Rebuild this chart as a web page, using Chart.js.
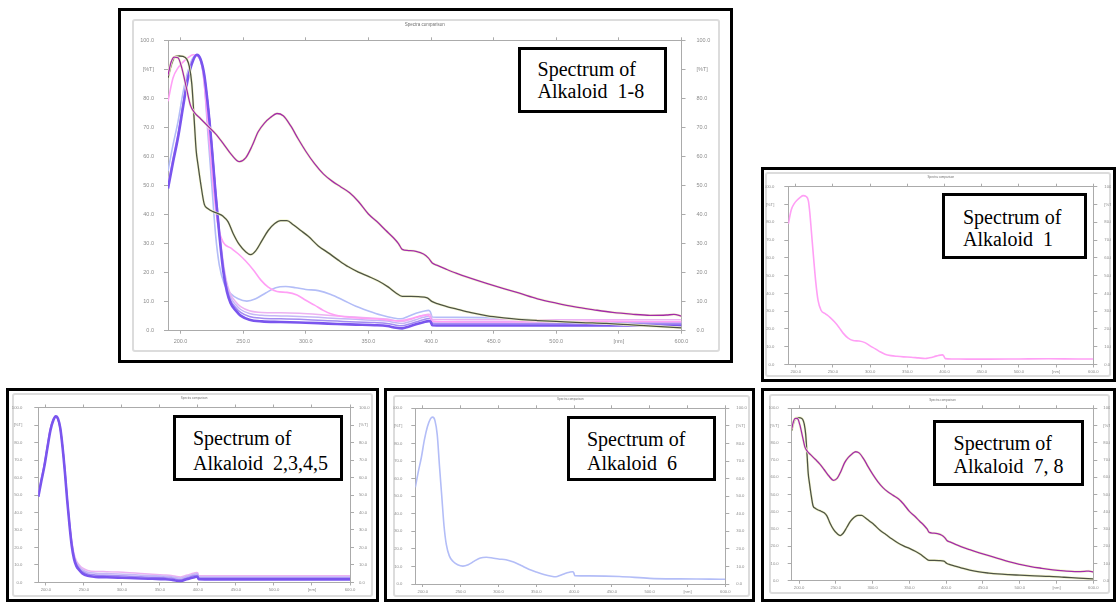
<!DOCTYPE html>
<html>
<head>
<meta charset="utf-8">
<title>Spectra of alkaloids 1-8</title>
<script src="https://cdn.jsdelivr.net/npm/chart.js@4.4.1/dist/chart.umd.min.js"></script>
<style>
  body { margin: 0; width: 1116px; height: 603px; background: #fff; position: relative; overflow: hidden; }
  .frame { position: absolute; box-sizing: border-box; border: 3px solid #000; }
  .inner { position: absolute; box-sizing: border-box; border: 2px solid #dcdcdc; border-radius: 3px; }
  canvas { position: absolute; }
  .label {
    position: absolute; box-sizing: border-box; border: 3px solid #000; background: #fff;
    font-family: 'Liberation Serif', 'Times New Roman', serif; font-size: 20px; color: #000; white-space: pre;
  }
</style>
</head>
<body>
<script>
// axis ticks
const xTickValues = [200, 250, 300, 350, 400, 450, 500, 550, 600];
const xTickLabels = ['200.0', '250.0', '300.0', '350.0', '400.0', '450.0', '500.0', '[nm]', '600.0'];
const yTickValues = [0, 10, 20, 30, 40, 50, 60, 70, 80, 90, 100];
const yTickLabels = ['0.0', '10.0', '20.0', '30.0', '40.0', '50.0', '60.0', '70.0', '80.0', '[%T]', '100.0'];

// alkaloid 1
const alk1Nm  = [190, 194, 198, 202, 206, 210, 214, 217, 219, 221, 224, 227, 230, 234, 240, 246, 252, 258, 264, 270, 277, 285, 293, 300, 307, 314, 320, 328, 336, 345, 355, 365, 374, 380, 386, 392, 397, 399, 401, 410, 430, 460, 500, 540, 580, 600];
const alk1Val = [79, 87, 90.5, 92.5, 94, 95, 94.5, 92, 85, 75, 60, 46, 36, 30.5, 28.5, 26.5, 24, 21, 17.5, 15, 13.5, 13.2, 12.3, 10.5, 8.8, 7, 5.8, 5, 4.6, 4.3, 4.1, 3.7, 3.4, 3.8, 4.4, 5.1, 5.4, 4.8, 3.3, 3.1, 3.0, 3.0, 3.1, 3.2, 3.1, 3.1];

// alkaloids 2,3,4,5 (same wavelength grid)
const groupNm = [190, 194, 198, 202, 206, 210, 213, 216, 219, 222, 225, 228, 231, 234, 237, 240, 244, 248, 255, 265, 280, 295, 310, 325, 340, 355, 365, 372, 377, 382, 388, 394, 398, 399.5, 401, 420, 460, 500, 540, 580, 600];
const alk2Val = [49, 58, 66.5, 77, 87, 93, 95, 93.5, 88, 77, 63, 47, 33, 21, 13.5, 9.5, 7, 5.2, 3.8, 3.2, 3.0, 2.8, 2.6, 2.3, 2.1, 1.9, 1.6, 1.0, 0.8, 1.4, 2.2, 2.9, 3.3, 3.2, 1.9, 1.8, 1.8, 1.8, 1.8, 1.8, 1.8];
const alk3Val = [49.5, 58.5, 67, 77.5, 87.5, 93.2, 95, 93.3, 88, 77.5, 63.5, 47.5, 33.5, 22, 14.5, 10.5, 8, 6.3, 4.9, 4.3, 4.1, 3.9, 3.6, 3.3, 3.0, 2.8, 2.5, 1.9, 1.7, 2.2, 3.0, 3.8, 4.2, 4.1, 2.6, 2.5, 2.5, 2.5, 2.5, 2.5, 2.5];
const alk4Val = [50, 59, 67.5, 78, 88, 93.4, 94.8, 93, 87.5, 77.5, 64, 48, 34, 23, 15.5, 11.5, 9, 7.3, 5.9, 5.3, 5.1, 4.9, 4.6, 4.2, 3.9, 3.6, 3.3, 2.7, 2.5, 3.0, 3.8, 4.6, 5.0, 4.9, 3.2, 3.1, 3.1, 3.1, 3.1, 3.1, 3.1];
const alk5Val = [50.5, 59.5, 68, 78.5, 88.5, 93.6, 94.6, 92.8, 87, 77.5, 64.5, 48.5, 35, 24, 16.5, 12.5, 10, 8.3, 6.9, 6.3, 6.2, 6.0, 5.6, 5.1, 4.7, 4.3, 4.0, 3.4, 3.2, 3.7, 4.5, 5.3, 5.7, 5.6, 3.9, 3.8, 3.8, 3.8, 3.8, 3.8, 3.8];

// alkaloid 6
const alk6Nm  = [190, 194, 198, 202, 206, 210, 213, 216, 219, 222, 225, 228, 231, 235, 240, 246, 253, 260, 268, 276, 284, 292, 300, 310, 320, 330, 340, 350, 360, 370, 376, 382, 388, 394, 398, 399.5, 401, 420, 460, 500, 540, 580, 600];
const alk6Val = [55, 64, 72, 82, 89.5, 94, 95, 93, 85, 67, 50, 33, 22.5, 16, 12.8, 11, 10.2, 11, 13, 14.8, 15.2, 14.8, 14.2, 13.8, 12.5, 10.5, 8.4, 6.8, 5.4, 4.4, 4.1, 5.0, 6.0, 6.7, 7.0, 6.5, 4.7, 4.6, 4.3, 3.2, 2.9, 2.8, 2.7];

// alkaloid 7
const alk7Nm  = [190, 192.5, 195, 198, 201, 205, 208, 211, 216, 222, 228, 234, 240, 247, 252, 257, 262, 267, 272, 277, 282, 288, 294, 300, 307, 314, 321, 328, 335, 342, 350, 357, 364, 370, 374, 377, 382, 388, 394, 398, 401, 405, 412, 420, 432, 445, 458, 470, 485, 500, 515, 530, 545, 560, 575, 588, 594, 600];
const alk7Val = [88, 92.5, 94.2, 94, 90.5, 83, 77.5, 75.2, 73, 70.4, 67.8, 64.5, 61, 58.2, 59.5, 63.5, 68.5, 71.5, 73.5, 74.8, 74, 70.5, 66, 61.8, 57.5, 54, 51.5, 49.5, 47.5, 44.5, 40.2, 37.5, 34.5, 32, 30, 28, 27.6, 27.3, 26.4, 25, 23.3, 22.5, 21.2, 19.8, 18, 16.2, 14.5, 13, 11, 9.5, 8.2, 7.2, 6.3, 5.7, 5.3, 5.4, 5.6, 5.0];

// alkaloid 8
const alk8Nm  = [190, 193, 196, 199, 202, 205, 207, 209, 211, 212.5, 214, 216, 219, 222, 226, 230, 234, 238, 242, 247, 252, 256, 260, 265, 270, 275, 280, 285, 290, 296, 302, 310, 318, 326, 334, 342, 350, 358, 366, 372, 377, 384, 390, 397, 401, 405, 412, 420, 432, 445, 458, 470, 485, 500, 520, 540, 560, 580, 600];
const alk8Val = [87, 92, 94.5, 94.6, 94.5, 93.5, 91, 85, 72, 62, 57, 51, 43.5, 42, 41, 40.3, 39.4, 37.5, 33.5, 29.6, 27.2, 26.2, 27.5, 31, 34.5, 36.8, 37.9, 37.9, 36.5, 34.5, 32.5, 29.2, 26.8, 24.3, 22, 20.2, 18.7, 17.1, 15, 13, 11.8, 11.8, 11.7, 11.3, 10.0, 9.3, 8.4, 7.5, 6.2, 5.1, 4.4, 3.9, 3.5, 3.2, 2.8, 2.5, 2.0, 1.5, 1.0];

const series = {
  a1: { nm: alk1Nm, val: alk1Val, color: '#ff9ff5', width: 1.6 },
  a2: { nm: groupNm, val: alk2Val, color: '#7a55ee', width: 2.6 },
  a3: { nm: groupNm, val: alk3Val, color: '#a48cf2', width: 1.5 },
  a4: { nm: groupNm, val: alk4Val, color: '#c6b6f6', width: 1.5 },
  a5: { nm: groupNm, val: alk5Val, color: '#ecb2f2', width: 1.5 },
  a6: { nm: alk6Nm, val: alk6Val, color: '#b3bdf7', width: 1.6 },
  a7: { nm: alk7Nm, val: alk7Val, color: '#a32aa8', width: 1.3, halo: '#f4f6d2' },
  a8: { nm: alk8Nm, val: alk8Val, color: '#4e5344', width: 1.3, halo: '#f4f6d2' }
};

// panel layout: frame, grey inner frame / canvas, axis sizes, title, text box
const panels = [
  { frame: [118, 8, 615, 355], canvas: [132, 19, 588, 333], left: 36, right: 38.5, top: 21.3, bottom: 21.3,
    fs: 5.5, padL: 10, padR: 11, padX: 4, titleY: 5.7, titleSize: 4.5,
    box: [518, 47, 149, 66], boxPad: [8.4, 16.6], lh: 22, text: 'Spectrum of\nAlkaloid  1-8',
    lines: ['a7', 'a8', 'a2', 'a1', 'a3', 'a4', 'a5', 'a6'] },
  { frame: [761, 167, 355, 215], canvas: [765, 172, 346, 205], left: 23.3, right: 17.7, top: 14.7, bottom: 12,
    fs: 4.2, padL: 10, padR: 7, padX: 2, titleY: 5.3, titleSize: 3,
    box: [942, 193, 145, 66], boxPad: [11, 18], lh: 21.7, text: 'Spectrum of\nAlkaloid  1',
    lines: ['a1'] },
  { frame: [6, 388, 373, 214], canvas: [12, 393, 361, 204], left: 26.3, right: 23, top: 13.7, bottom: 13.7,
    fs: 4.2, padL: 12, padR: 5, padX: 2, titleY: 4.7, titleSize: 3,
    box: [173, 415, 170, 66], boxPad: [7.8, 17], lh: 25, text: 'Spectrum of\nAlkaloid  2,3,4,5',
    lines: ['a2', 'a3', 'a4', 'a5'] },
  { frame: [384, 388, 371, 214], canvas: [393, 395, 357, 202], left: 22.3, right: 24.7, top: 13.3, bottom: 13,
    fs: 4.2, padL: 9, padR: 7, padX: 2, titleY: 4, titleSize: 3,
    box: [567, 416, 149, 65], boxPad: [7.6, 17], lh: 24, text: 'Spectrum of\nAlkaloid  6',
    lines: ['a6'] },
  { frame: [761, 388, 355, 214], canvas: [769, 394, 341, 200], left: 22.7, right: 16.7, top: 14.3, bottom: 13.3,
    fs: 4.2, padL: 9, padR: 6, padX: 2, titleY: 6, titleSize: 3,
    box: [933, 420, 151, 66], boxPad: [8.6, 17.6], lh: 23.4, text: 'Spectrum of\nAlkaloid  7, 8',
    lines: ['a7', 'a8'] }
];

const axisColor = '#ababab';
const tickColor = '#8c8c8c';

const titlePlugin = {
  id: 'panelTitle',
  afterDraw(chart, args, opts) {
    const ctx = chart.ctx;
    const a = chart.chartArea;
    ctx.save();
    ctx.font = opts.size + 'px "Liberation Sans", Arial, sans-serif';
    ctx.fillStyle = '#707070';
    ctx.textAlign = 'center';
    ctx.textBaseline = 'middle';
    ctx.fillText(opts.text, (a.left + a.right) / 2, opts.y);
    ctx.restore();
  }
};

function place(el, r) {
  el.style.left = r[0] + 'px';
  el.style.top = r[1] + 'px';
  el.style.width = r[2] + 'px';
  el.style.height = r[3] + 'px';
}

function xAxis(p, pos) {
  return {
    type: 'linear', position: pos, min: 190, max: 600,
    afterBuildTicks: s => { s.ticks = xTickValues.map(v => ({ value: v })); },
    afterFit: s => { s.height = pos === 'top' ? p.top : p.bottom; },
    border: { display: true, color: axisColor, width: 1 },
    grid: { drawOnChartArea: false, drawTicks: true, tickLength: 3, color: axisColor },
    ticks: {
      display: pos === 'bottom', autoSkip: false, maxRotation: 0, padding: p.padX,
      color: tickColor, font: { size: p.fs, family: 'Liberation Sans' },
      callback: v => xTickLabels[xTickValues.indexOf(v)]
    }
  };
}

function yAxis(p, pos) {
  return {
    type: 'linear', position: pos, min: 0, max: 100,
    afterBuildTicks: s => { s.ticks = yTickValues.map(v => ({ value: v })); },
    afterFit: s => { s.width = pos === 'left' ? p.left : p.right; },
    border: { display: true, color: axisColor, width: 1 },
    grid: { drawOnChartArea: false, drawTicks: true, tickLength: 4, color: axisColor },
    ticks: {
      autoSkip: false, padding: pos === 'left' ? p.padL : p.padR,
      color: tickColor, font: { size: p.fs, family: 'Liberation Sans' },
      callback: v => yTickLabels[yTickValues.indexOf(v)]
    }
  };
}

function makePanel(p) {
  const frame = document.createElement('div');
  frame.className = 'frame';
  place(frame, p.frame);
  document.body.appendChild(frame);

  const inner = document.createElement('div');
  inner.className = 'inner';
  place(inner, p.canvas);
  document.body.appendChild(inner);

  const cv = document.createElement('canvas');
  cv.width = p.canvas[2];
  cv.height = p.canvas[3];
  place(cv, p.canvas);
  document.body.appendChild(cv);

  // earlier datasets are drawn on top
  const datasets = [];
  p.lines.forEach(key => {
    const s = series[key];
    const pts = s.nm.map((x, i) => ({ x: x, y: s.val[i] }));
    const base = { data: pts, pointRadius: 0, fill: false, cubicInterpolationMode: 'monotone', xAxisID: 'x', yAxisID: 'y' };
    datasets.push(Object.assign({}, base, { label: key, borderColor: s.color, borderWidth: s.width }));
    if (s.halo) datasets.push(Object.assign({}, base, { label: key + ' halo', borderColor: s.halo, borderWidth: 2.6 }));
  });

  new Chart(cv, {
    type: 'line',
    data: { datasets: datasets },
    options: {
      responsive: false,
      animation: false,
      devicePixelRatio: 1,
      layout: { padding: 0 },
      plugins: {
        legend: { display: false },
        tooltip: { enabled: false },
        panelTitle: { text: 'Spectra comparison', y: p.titleY, size: p.titleSize }
      },
      scales: {
        x: xAxis(p, 'bottom'),
        x2: xAxis(p, 'top'),
        y: yAxis(p, 'left'),
        y2: yAxis(p, 'right')
      }
    },
    plugins: [titlePlugin]
  });

  const box = document.createElement('div');
  box.className = 'label';
  place(box, p.box);
  box.style.padding = p.boxPad[0] + 'px 0 0 ' + p.boxPad[1] + 'px';
  box.style.lineHeight = p.lh + 'px';
  box.textContent = p.text;
  document.body.appendChild(box);
}

panels.forEach(makePanel);
</script>
</body>
</html>
